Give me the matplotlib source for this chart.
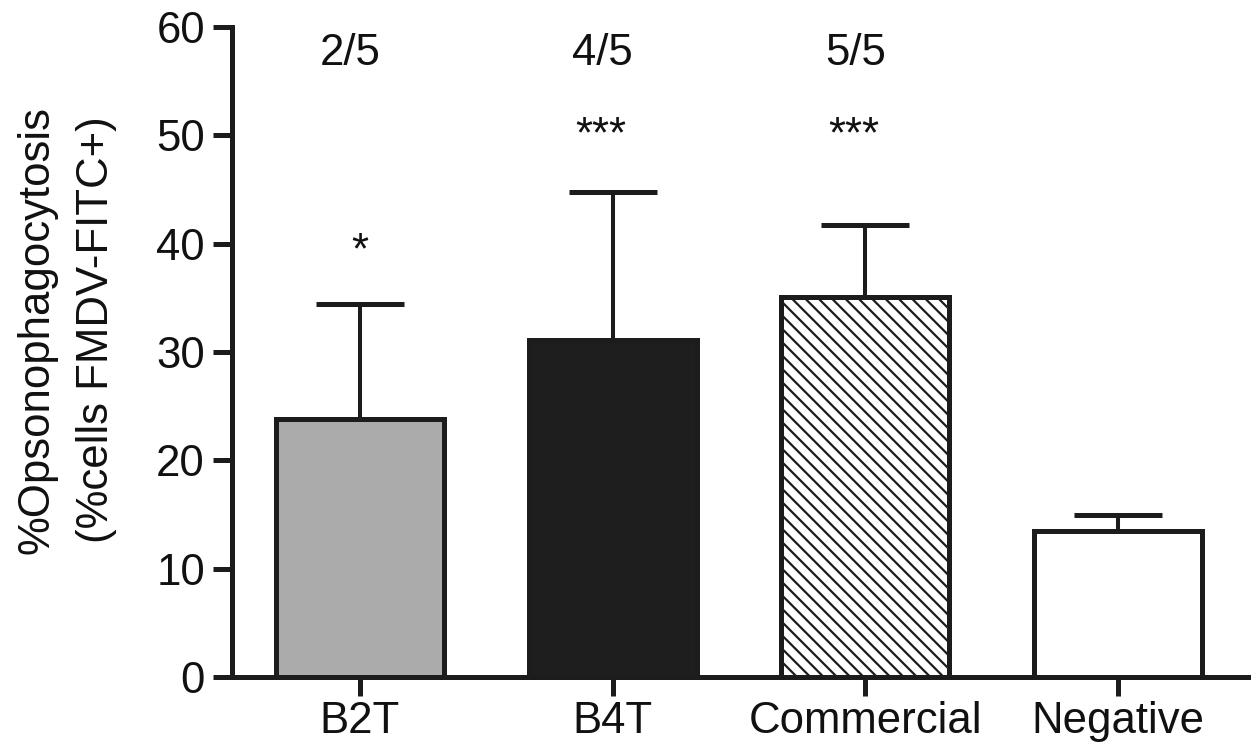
import matplotlib
matplotlib.use("Agg")
import matplotlib.pyplot as plt
import numpy as np

categories = ["B2T", "B4T", "Commercial", "Negative"]
means = [23.8, 31.1, 35.1, 13.5]
upper_err = [10.6, 13.7, 6.6, 1.5]
ratios = ["2/5", "4/5", "5/5", ""]
stars = ["*", "***", "***", ""]
star_y = [38.2, 48.9, 48.9, 0]
ratio_y = 56.5

face_colors = ["#ababab", "#1e1e1e", "white", "white"]
hatches = [None, None, "\\\\", None]
line_c = "#1c1c1c"

# render at 80 dpi (hatch spacing is tied to dpi); S converts 100-dpi point sizes
DPI = 80
S = 100.0 / DPI

plt.rcParams["font.family"] = ["Liberation Sans", "DejaVu Sans"]
plt.rcParams["hatch.linewidth"] = 1.6 * S
plt.rcParams["hatch.color"] = line_c

fig = plt.figure(figsize=(1257 / DPI, 744 / DPI), dpi=DPI)
ax = fig.add_axes([0.1846, 0.090, 0.9928 - 0.1846, 0.9637 - 0.090])

x = np.arange(len(categories))
for i in range(len(categories)):
    ax.bar(x[i], means[i], width=0.665, color=face_colors[i], edgecolor=line_c,
           linewidth=3.6 * S, hatch=hatches[i], zorder=3)

eb = ax.errorbar(x, means, yerr=[np.zeros(len(means)), upper_err], fmt="none",
                 ecolor=line_c, elinewidth=2.9 * S, capsize=32 * S, capthick=3.6 * S, zorder=2)
caps = eb[1]
if len(caps) == 2:
    caps[0].set_visible(False)
for c in caps:
    c.set_solid_capstyle("round")

fs = 31.5 * S
for i in range(len(categories)):
    if ratios[i]:
        ax.text(x[i] - 0.04, ratio_y, ratios[i], ha="center", va="baseline", fontsize=fs, color="#111111")
    if stars[i]:
        ax.text(x[i] - (0.0 if stars[i] == "*" else 0.045), star_y[i], stars[i],
                ha="center", va="baseline", fontsize=fs, color="#111111")

ax.set_xlim(-0.506, 3.514)
ax.set_ylim(0, 60)
ax.set_yticks(np.arange(0, 61, 10))
ax.set_xticks(x)
ax.set_xticklabels(categories)

for s in ["top", "right"]:
    ax.spines[s].set_visible(False)
for s in ["left", "bottom"]:
    ax.spines[s].set_linewidth(3.6 * S)
    ax.spines[s].set_color(line_c)
    ax.spines[s].set_capstyle("projecting")

ax.tick_params(axis="both", direction="out", length=13.5 * S, width=3.6 * S, color=line_c,
               labelsize=fs, labelcolor="#111111")
ax.tick_params(axis="y", pad=6 * S)
ax.tick_params(axis="x", pad=4 * S)

ax.set_ylabel("%Opsonophagocytosis\n(%cells FMDV-FITC+)", fontsize=fs, color="#111111", linespacing=1.6)
ax.yaxis.set_label_coords(-0.113, 0.534)

fig.savefig("out.png", dpi=DPI, facecolor="white")
